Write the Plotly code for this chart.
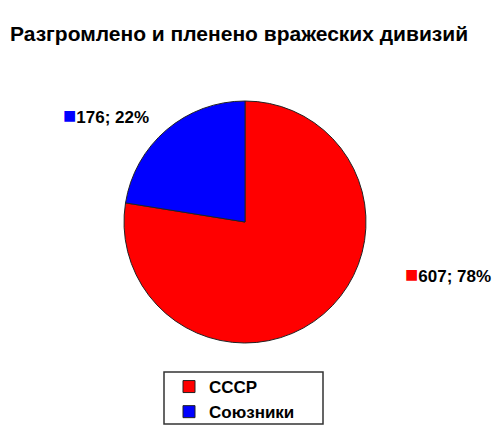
import plotly.graph_objects as go

title = "Разгромлено и пленено вражеских дивизий"
labels = ["СССР", "Союзники"]
values = [607, 176]
colors = ["#ff0000", "#0000ff"]

total = sum(values)
label_text = [f"{v}; {round(v / total * 100)}%" for v in values]

W, H = 500, 446
OFF = 8  # page body margin


def px_x(x):
    return (x - OFF) / W


def px_y(y):
    return 1 - (y - OFF) / H


fig = go.Figure()
fig.add_trace(go.Pie(
    labels=labels,
    values=values,
    sort=False,
    direction="clockwise",
    rotation=0,
    marker=dict(colors=colors, line=dict(color="#222222", width=1)),
    textinfo="none",
    hoverinfo="label+value+percent",
    domain=dict(x=[px_x(124), px_x(366)], y=[px_y(343), px_y(101)]),
))

# outside value labels with coloured squares
label_pos = [(403, 274), (61, 115)]
anns = []
for txt, col, (px, py) in zip(label_text, colors, label_pos):
    anns.append(dict(
        x=px_x(px), y=px_y(py), xref="paper", yref="paper",
        xanchor="left", yanchor="middle", showarrow=False,
        text=f"<span style='color:{col};font-size:22px'>■</span><b>{txt}</b>",
        font=dict(family="Arial", size=17, color="black"),
    ))

anns.append(dict(
    x=0, y=px_y(33), xref="paper", yref="paper",
    xanchor="left", yanchor="middle", showarrow=False,
    text=f"<b>{title}</b>",
    font=dict(family="Arial", size=21, color="black"),
))

fig.update_layout(
    width=W, height=H,
    margin=dict(l=0, r=0, t=0, b=0),
    paper_bgcolor="white",
    plot_bgcolor="white",
    font=dict(family="Arial", color="black"),
    annotations=anns,
    shapes=[dict(
        type="rect", xref="paper", yref="paper",
        x0=px_x(164), x1=px_x(323), y0=px_y(424), y1=px_y(372),
        line=dict(color="#333333", width=1.5), fillcolor="rgba(0,0,0,0)",
    )],
    legend=dict(
        x=px_x(169), y=px_y(369), xanchor="left", yanchor="top",
        borderwidth=0, bgcolor="rgba(0,0,0,0)",
        font=dict(family="Arial", size=17, color="black", weight="bold"),
        itemwidth=30,
    ),
)

fig.write_html("out.html")
